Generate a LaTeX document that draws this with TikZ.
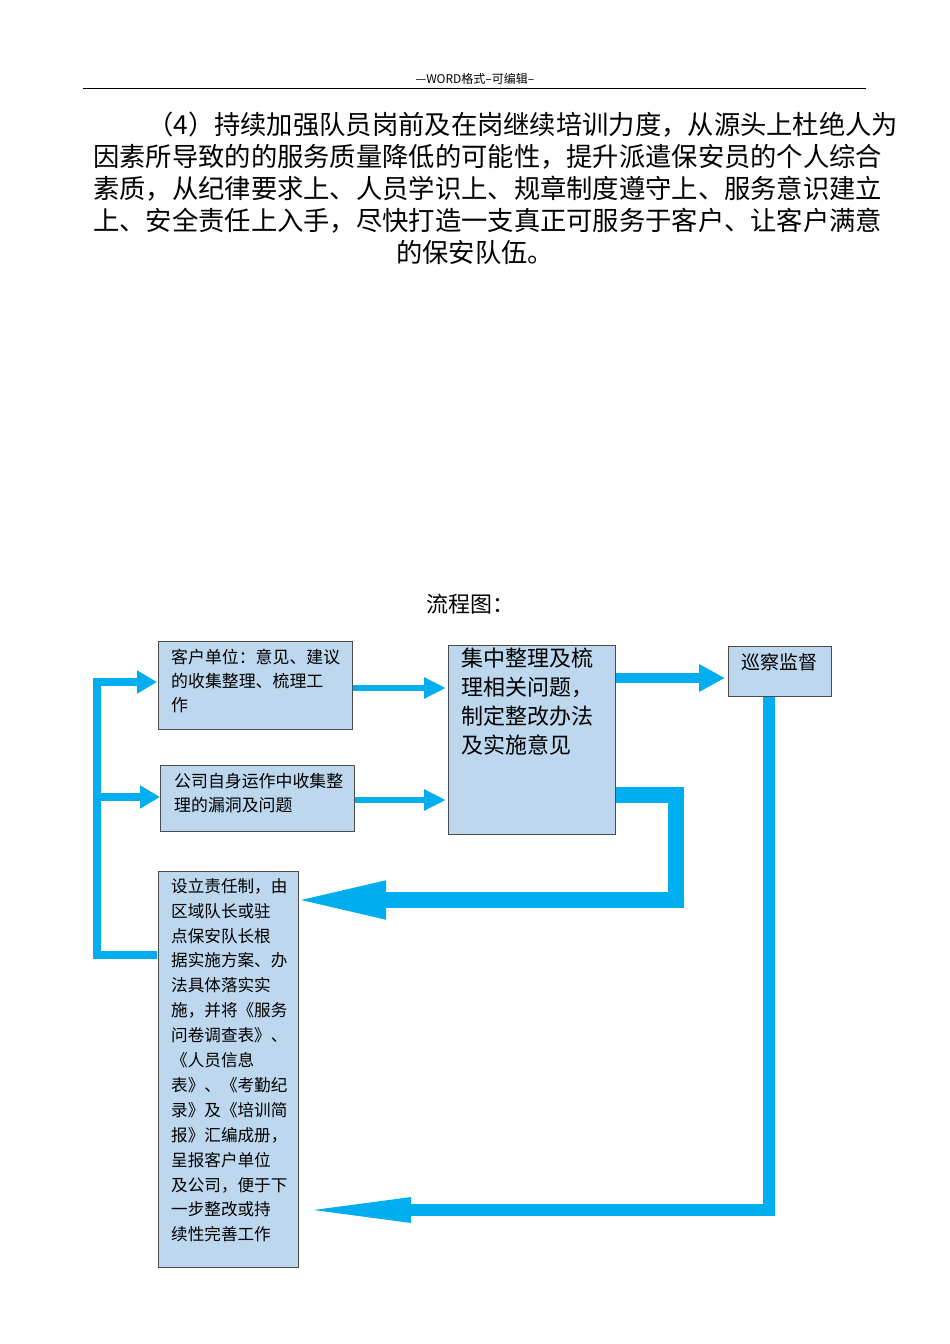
\documentclass[tikz,border=0pt]{standalone}
\usepackage{fontspec}
\setmainfont{Noto Sans CJK SC}
\usetikzlibrary{arrows.meta}
\definecolor{boxf}{HTML}{BDD7EE}
\definecolor{arr}{HTML}{00AEEF}
\begin{document}
\begin{tikzpicture}[x=1pt,y=-1pt,
  bx/.style={draw=black!70,fill=boxf,line width=0.8pt},
  tx/.style={anchor=north west,align=left,inner sep=0pt},
  par/.style={font=\fontsize{26.3}{28}\selectfont,inner sep=0pt},
  ar/.style={draw=arr,line width=#1},
  ]
\useasboundingbox (0,0) rectangle (950,1344);
\node[font=\fontsize{12}{12}\selectfont] (hd) at (475,79) {---WORD格式--可编辑--};
\draw[line width=0.6pt] (83,88) -- (866,88);
\node[par,anchor=west] (p1) at (147,125) {（4）持续加强队员岗前及在岗继续培训力度，从源头上杜绝人为};
\node[par,anchor=west] (p2) at (93,157) {因素所导致的的服务质量降低的可能性，提升派遣保安员的个人综合};
\node[par,anchor=west] (p3) at (93,189) {素质，从纪律要求上、人员学识上、规章制度遵守上、服务意识建立};
\node[par,anchor=west] (p4) at (93,221) {上、安全责任上入手，尽快打造一支真正可服务于客户、让客户满意};
\node[par] (p5) at (475,252) {的保安队伍。};
\node[font=\fontsize{22}{24}\selectfont] (ttl) at (470,604) {流程图：};
% boxes
\draw[bx] (158,641) rectangle (352,729);
\node[tx,font=\fontsize{16.9}{24}\selectfont] (b1) at (171,649) {客户单位：意见、建议\\的收集整理、梳理工\\作};
\draw[bx] (160,765) rectangle (354,831);
\node[tx,font=\fontsize{16.9}{24}\selectfont] (b2) at (174,773) {公司自身运作中收集整\\理的漏洞及问题};
\draw[bx] (448,645) rectangle (615,834);
\node[tx,font=\fontsize{22}{29}\selectfont] (b3) at (461,648) {集中整理及梳\\理相关问题，\\制定整改办法\\及实施意见};
\draw[bx] (728,646) rectangle (831,696);
\node[tx,font=\fontsize{19}{20}\selectfont] (b4) at (741,653) {巡察监督};
\draw[bx] (158,871) rectangle (298,1267);
\node[tx,font=\fontsize{16.6}{24.9}\selectfont] (b5) at (171,878) {设立责任制，由\\区域队长或驻\\点保安队长根\\据实施方案、办\\法具体落实实\\施，并将《服务\\问卷调查表》、\\《人员信息\\表》、《考勤纪\\录》及《培训简\\报》汇编成册，\\呈报客户单位\\及公司，便于下\\一步整改或持\\续性完善工作};
% arrows
\draw[ar=6pt,-{Triangle[length=22pt,width=20pt]}] (353,688) -- (446,688);
\draw[ar=6pt,-{Triangle[length=22pt,width=20pt]}] (355,800) -- (446,800);
\draw[ar=10pt,-{Triangle[length=26pt,width=26pt]}] (616,678) -- (725,678);
\draw[ar=16pt,-{Triangle[length=95pt,width=34pt]},line join=miter] (616,795) -- (676,795) -- (676,900) -- (291,900);
\draw[ar=12pt,-{Triangle[length=115pt,width=22pt]},line join=miter] (769,697) -- (769,1210) -- (296,1210);
\draw[ar=8pt,line join=miter] (157,955) -- (97,955) -- (97,682) -- (135,682);
\draw[ar=8pt,-{Triangle[length=20pt,width=22pt]}] (97,682) -- (157,682);
\draw[ar=8pt,-{Triangle[length=20pt,width=22pt]}] (97,797) -- (160,797);
\end{tikzpicture}
\end{document}
